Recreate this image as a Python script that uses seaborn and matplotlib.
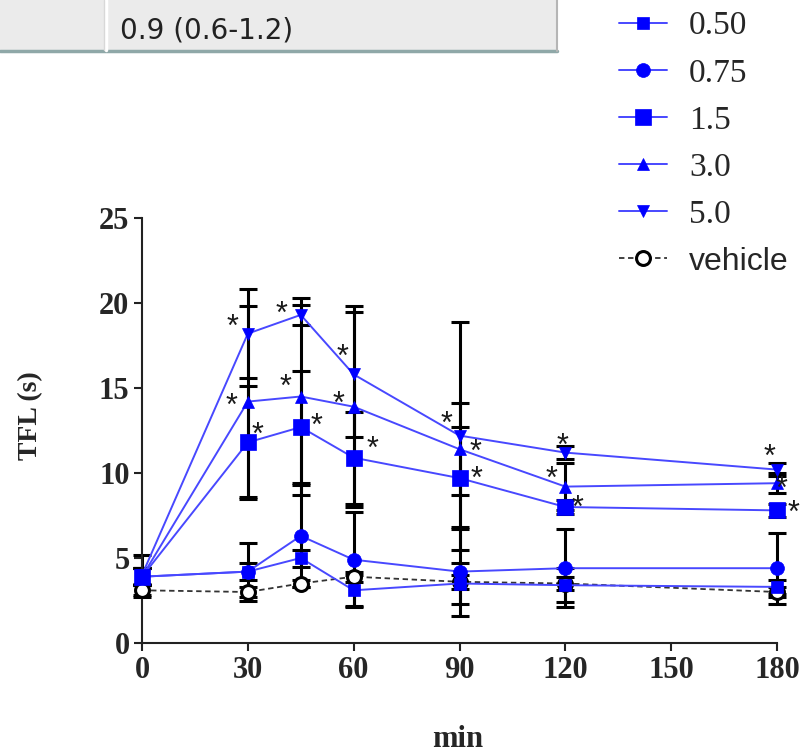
import pandas as pd
import seaborn as sns
import matplotlib.pyplot as plt
from matplotlib.patches import Rectangle
from matplotlib.lines import Line2D

# time points (min) and TFL (s) mean / error per dose
minutes = [0, 30, 45, 60, 90, 120, 180]
doses = ["0.50", "0.75", "1.5", "3.0", "5.0", "vehicle"]

tfl_050 = [3.9, 4.2, 5.0, 3.1, 3.5, 3.4, 3.3]
err_050 = [0.5, 0.5, 0.5, 0.9, 1.2, 1.0, 0.4]
tfl_075 = [3.9, 4.2, 6.3, 4.9, 4.2, 4.4, 4.4]
err_075 = [0.5, 1.7, 3.0, 2.8, 2.6, 2.3, 2.1]
tfl_15 = [3.9, 11.8, 12.7, 10.9, 9.7, 8.0, 7.8]
err_15 = [0.5, 3.3, 3.3, 2.7, 3.0, 0.4, 0.4]
tfl_30 = [3.9, 14.2, 14.5, 13.9, 11.4, 9.2, 9.4]
err_30 = [0.5, 5.6, 5.8, 5.9, 2.7, 1.4, 0.6]
tfl_50 = [4.0, 18.2, 19.3, 15.8, 12.2, 11.2, 10.2]
err_50 = [1.2, 2.6, 0.6, 3.7, 6.7, 0.4, 0.4]
tfl_veh = [3.1, 3.0, 3.5, 3.9, 3.6, 3.5, 3.0]
err_veh = [0.4, 0.3, 0.2, 0.3, 0.4, 0.4, 0.3]

means = [tfl_050, tfl_075, tfl_15, tfl_30, tfl_50, tfl_veh]
errs = [err_050, err_075, err_15, err_30, err_50, err_veh]

# significance stars: (dose, minute)
star_points = [("5.0", 30), ("5.0", 45), ("5.0", 60), ("5.0", 90), ("5.0", 120), ("5.0", 180),
               ("3.0", 30), ("3.0", 45), ("3.0", 60), ("3.0", 90), ("3.0", 120), ("3.0", 180),
               ("1.5", 30), ("1.5", 45), ("1.5", 60), ("1.5", 90), ("1.5", 120), ("1.5", 180)]
# pixel offsets of each star from its point (dx right, dy up)
star_offsets = [(-15, 16), (-19, 10), (-11, 26), (-13, 21), (-3, 16), (-8, 22),
                (-16, 5), (-15, 19), (-15, 12), (16, 6), (-14, 17), (5, 3),
                (10, 16), (16, 10), (19, 18), (17, 8), (12, 8), (17, 6)]

rows = []
for d, m, e in zip(doses, means, errs):
    for t, v, s in zip(minutes, m, e):
        rows.append({"min": t, "TFL": v, "sem": s, "dose": d})
df = pd.DataFrame(rows)

sns.set_style("ticks")
fig = plt.figure(figsize=(8, 7.56), dpi=100)

# table fragment at top
fig.patches.append(Rectangle((0, 1 - 51 / 756), 557 / 800, 51 / 756, transform=fig.transFigure,
                             facecolor="#ebebeb", edgecolor="none", zorder=0))
fig.add_artist(Line2D([0, 557 / 800], [1 - 51 / 756] * 2, transform=fig.transFigure,
                      color="#8fa8a8", lw=2.5))
fig.add_artist(Line2D([557 / 800] * 2, [1, 1 - 51 / 756], transform=fig.transFigure,
                      color="#b5b5b5", lw=1.5))
fig.add_artist(Line2D([106 / 800] * 2, [1, 1 - 50 / 756], transform=fig.transFigure,
                      color="#ffffff", lw=2.5))
fig.add_artist(Line2D([104 / 800] * 2, [1, 1 - 50 / 756], transform=fig.transFigure,
                      color="#d8d8d8", lw=1))
fig.text(120 / 800, 1 - 31 / 756, "0.9 (0.6-1.2)", fontsize=20, family="DejaVu Sans",
         va="center", ha="left", color="#222222")

ax = fig.add_axes([142 / 800, 113 / 756, 635 / 800, 425 / 756])

styles = {
    "0.50": dict(marker="s", ms=9),
    "0.75": dict(marker="o", ms=10),
    "1.5": dict(marker="s", ms=11),
    "3.0": dict(marker="^", ms=8),
    "5.0": dict(marker="v", ms=8),
}

handles = []
for d in doses:
    sub = df[df["dose"] == d]
    ax.errorbar(sub["min"], sub["TFL"], yerr=sub["sem"], fmt="none", ecolor="black",
                elinewidth=2.2, capsize=6.5, capthick=2.2, zorder=2, clip_on=False)
    if d == "vehicle":
        sns.lineplot(data=sub, x="min", y="TFL", ax=ax, errorbar=None, color="#333333",
                     lw=1.3, linestyle=(0, (3, 2)), marker="o", ms=10, mfc="white",
                     mec="black", mew=2.2, zorder=3, clip_on=False, label=d)
    else:
        sns.lineplot(data=sub, x="min", y="TFL", ax=ax, errorbar=None, color="#4848ff",
                     lw=1.4, mfc="#0000ff", mec="#0000ff", mew=0.5, zorder=4,
                     clip_on=False, label=d, **styles[d])
    handles.append(ax.lines[-1])

# stars
for (d, t), (dx, dy) in zip(star_points, star_offsets):
    v = df[(df["dose"] == d) & (df["min"] == t)]["TFL"].iloc[0]
    ax.annotate("*", (t, v), xytext=(dx / 1.389, (dy - 10) / 1.389), textcoords="offset points",
                ha="center", va="center", fontsize=22, family="Liberation Sans",
                color="#1a1a1a", annotation_clip=False, zorder=6)

ax.set_xlim(0, 180)
ax.set_ylim(0, 25)
ax.set_xticks([0, 30, 60, 90, 120, 150, 180])
ax.set_yticks([0, 5, 10, 15, 20, 25])
sns.despine(ax=ax)
for s in ["left", "bottom"]:
    ax.spines[s].set_linewidth(1.5)
    ax.spines[s].set_color("#222222")
ax.tick_params(width=1.5, length=6, color="#222222", pad=3)
for lab in ax.get_xticklabels() + ax.get_yticklabels():
    lab.set_fontfamily("Liberation Serif")
    lab.set_fontweight("bold")
    lab.set_fontsize(22)
ax.set_xlabel("min", fontsize=22, family="Liberation Serif", fontweight="bold")
ax.set_ylabel("TFL (s)", fontsize=20, family="Liberation Serif", fontweight="bold")
ax.xaxis.set_label_coords(0.4976, -0.228)
ax.yaxis.set_label_coords(-0.176, 0.536)
ax.xaxis.label.set_va("center")
ax.yaxis.label.set_va("center")

leg = ax.legend(handles, doses, loc="upper left", bbox_to_anchor=(619 / 800, 1 - 11 / 756),
                bbox_transform=fig.transFigure, frameon=False, borderpad=0, borderaxespad=0,
                handlelength=1.44, handletextpad=0.66, labelspacing=0.5,
                prop={"family": "Liberation Serif", "size": 24})
leg.get_texts()[-1].set_fontfamily("Liberation Sans")
leg.get_texts()[-1].set_fontsize(23)

fig.savefig("out.png", dpi=100)
